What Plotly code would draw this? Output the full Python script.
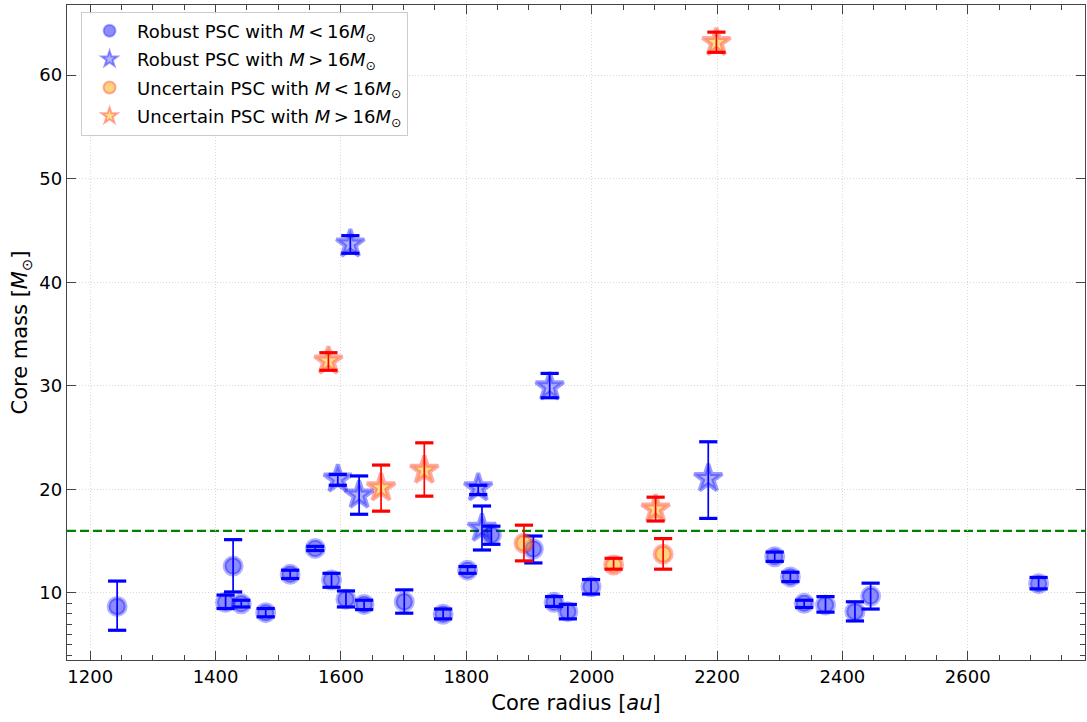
import plotly.graph_objects as go

# Robust PSC with M < 16 Msun
rob_lo_x = [1243, 1416, 1428, 1441, 1480, 1519, 1559, 1585, 1608, 1637, 1701, 1763, 1802,
            1840, 1907, 1940, 1962, 1999, 2292, 2317, 2339, 2373, 2420, 2445, 2713]
rob_lo_y = [8.7, 9.1, 12.6, 8.95, 8.1, 11.8, 14.3, 11.25, 9.4, 8.9, 9.15, 7.95, 12.2,
            15.6, 14.25, 9.1, 8.2, 10.6, 13.5, 11.55, 9.0, 8.85, 8.2, 9.7, 10.9]
rob_lo_up = [2.45, 0.7, 2.55, 0.35, 0.4, 0.4, 0.2, 0.65, 0.8, 0.4, 1.15, 0.5, 0.35,
             0.85, 1.25, 0.55, 0.7, 0.7, 0.45, 0.45, 0.3, 0.8, 0.95, 1.25, 0.6]
rob_lo_dn = [2.3, 0.6, 2.5, 0.3, 0.4, 0.4, 0.2, 0.7, 0.75, 0.5, 1.1, 0.45, 0.3,
             0.9, 1.35, 0.4, 0.7, 0.7, 0.45, 0.45, 0.4, 0.7, 0.9, 1.25, 0.5]

# Robust PSC with M > 16 Msun
rob_hi_x = [1595, 1615, 1629, 1819, 1825, 1933, 2186]
rob_hi_y = [21.0, 43.7, 19.45, 20.15, 16.25, 29.9, 21.05]
rob_hi_up = [0.45, 0.8, 1.85, 0.25, 2.15, 1.3, 3.55]
rob_hi_dn = [0.6, 0.9, 1.85, 0.65, 2.1, 1.05, 3.85]

# Uncertain PSC with M < 16 Msun
unc_lo_x = [1892, 2035, 2114]
unc_lo_y = [14.8, 12.7, 13.75]
unc_lo_up = [1.75, 0.65, 1.5]
unc_lo_dn = [1.7, 0.4, 1.45]

# Uncertain PSC with M > 16 Msun
unc_hi_x = [1580, 1664, 1733, 2102, 2199]
unc_hi_y = [32.4, 20.15, 21.85, 18.1, 63.15]
unc_hi_up = [0.8, 2.2, 2.65, 1.15, 1.0]
unc_hi_dn = [0.9, 2.25, 2.5, 1.15, 0.95]

threshold = 16

FONT = "DejaVu Sans"
MSUN = "<i>M</i><sub>⊙</sub>"
LT = "<i>M</i>\u2009<\u200916" + MSUN
GT = "<i>M</i>\u2009>\u200916" + MSUN

groups = [
    ("Robust PSC with " + LT, rob_lo_x, rob_lo_y, rob_lo_up, rob_lo_dn,
     "circle", 17, "rgba(0,0,255,0.45)", "rgba(0,0,255,0.3)", "#0000ff"),
    ("Robust PSC with " + GT, rob_hi_x, rob_hi_y, rob_hi_up, rob_hi_dn,
     "star", 21, "rgba(0,0,255,0.3)", "rgba(0,0,255,0.4)", "#0000ff"),
    ("Uncertain PSC with " + LT, unc_lo_x, unc_lo_y, unc_lo_up, unc_lo_dn,
     "circle", 17, "rgba(255,170,0,0.5)", "rgba(255,0,0,0.3)", "#ff0000"),
    ("Uncertain PSC with " + GT, unc_hi_x, unc_hi_y, unc_hi_up, unc_hi_dn,
     "star", 21, "rgba(255,190,0,0.45)", "rgba(255,40,40,0.4)", "#ff0000"),
]

fig = go.Figure()

for i, (name, xs, ys, up, dn, sym, size, fill, edge, ecol) in enumerate(groups):
    grp = "g%d" % i
    fig.add_trace(go.Scatter(
        x=xs, y=ys, mode="markers", name=name, legendgroup=grp,
        marker=dict(symbol=sym, size=size, color=fill, line=dict(color=edge, width=4)),
    ))
    fig.add_trace(go.Scatter(
        x=xs, y=ys, mode="markers", showlegend=False, hoverinfo="skip", legendgroup=grp,
        marker=dict(size=1, color="rgba(0,0,0,0)"),
        error_y=dict(type="data", symmetric=False, array=up, arrayminus=dn,
                     color=ecol, thickness=1.7, width=0),
    ))
    caps_x = list(xs) + list(xs)
    caps_y = [y + u for y, u in zip(ys, up)] + [y - d for y, d in zip(ys, dn)]
    fig.add_trace(go.Scatter(
        x=caps_x, y=caps_y, mode="markers", showlegend=False, hoverinfo="skip", legendgroup=grp,
        marker=dict(symbol="line-ew", size=13, line=dict(color=ecol, width=3.2)),
    ))

fig.add_hline(y=threshold, line=dict(color="#008000", width=2.2, dash="9px,4px"), layer="below")

axis_common = dict(
    showline=True, linecolor="#444", linewidth=1.3, mirror="allticks",
    ticks="inside", ticklen=9, tickwidth=1.2, tickcolor="#444",
    showgrid=True, gridcolor="#d9d9d9", griddash="1px,2px", gridwidth=1,
    zeroline=False, tickfont=dict(family=FONT, size=18, color="black"),
    automargin=False,
)

fig.update_xaxes(
    range=[1163, 2787], tickmode="array", tickvals=[1200, 1400, 1600, 1800, 2000, 2200, 2400, 2600],
    title=dict(text="Core radius [<i>au</i>]", font=dict(family=FONT, size=21, color="black"), standoff=9),
    minor=dict(dtick=50, tick0=1200, ticks="inside", ticklen=5, tickcolor="#444", showgrid=False),
    **axis_common,
)
fig.update_yaxes(
    range=[3.53, 66.77], tickmode="array", tickvals=[10, 20, 30, 40, 50, 60],
    title=dict(text="Core mass [" + MSUN + "]", font=dict(family=FONT, size=21, color="black"), standoff=5),
    minor=dict(tickmode="array", tickvals=[4, 5, 6, 7, 8, 9], ticks="inside", ticklen=5,
               tickcolor="#444", showgrid=False),
    **axis_common,
)

fig.update_layout(
    width=1087, height=722,
    margin=dict(l=67, r=2, t=5, b=62),
    plot_bgcolor="white", paper_bgcolor="white",
    font=dict(family=FONT, color="black"),
    legend=dict(
        x=0.0138, y=0.99, xanchor="left", yanchor="top",
        bgcolor="rgba(255,255,255,0.85)", bordercolor="#cccccc", borderwidth=1,
        font=dict(family=FONT, size=18, color="black"),
        itemsizing="constant", itemwidth=45, tracegroupgap=2,
    ),
    showlegend=True,
)

fig.write_html("out.html", config={"displayModeBar": False},
               post_script="document.body.style.margin='0';document.body.style.overflow='hidden';")
